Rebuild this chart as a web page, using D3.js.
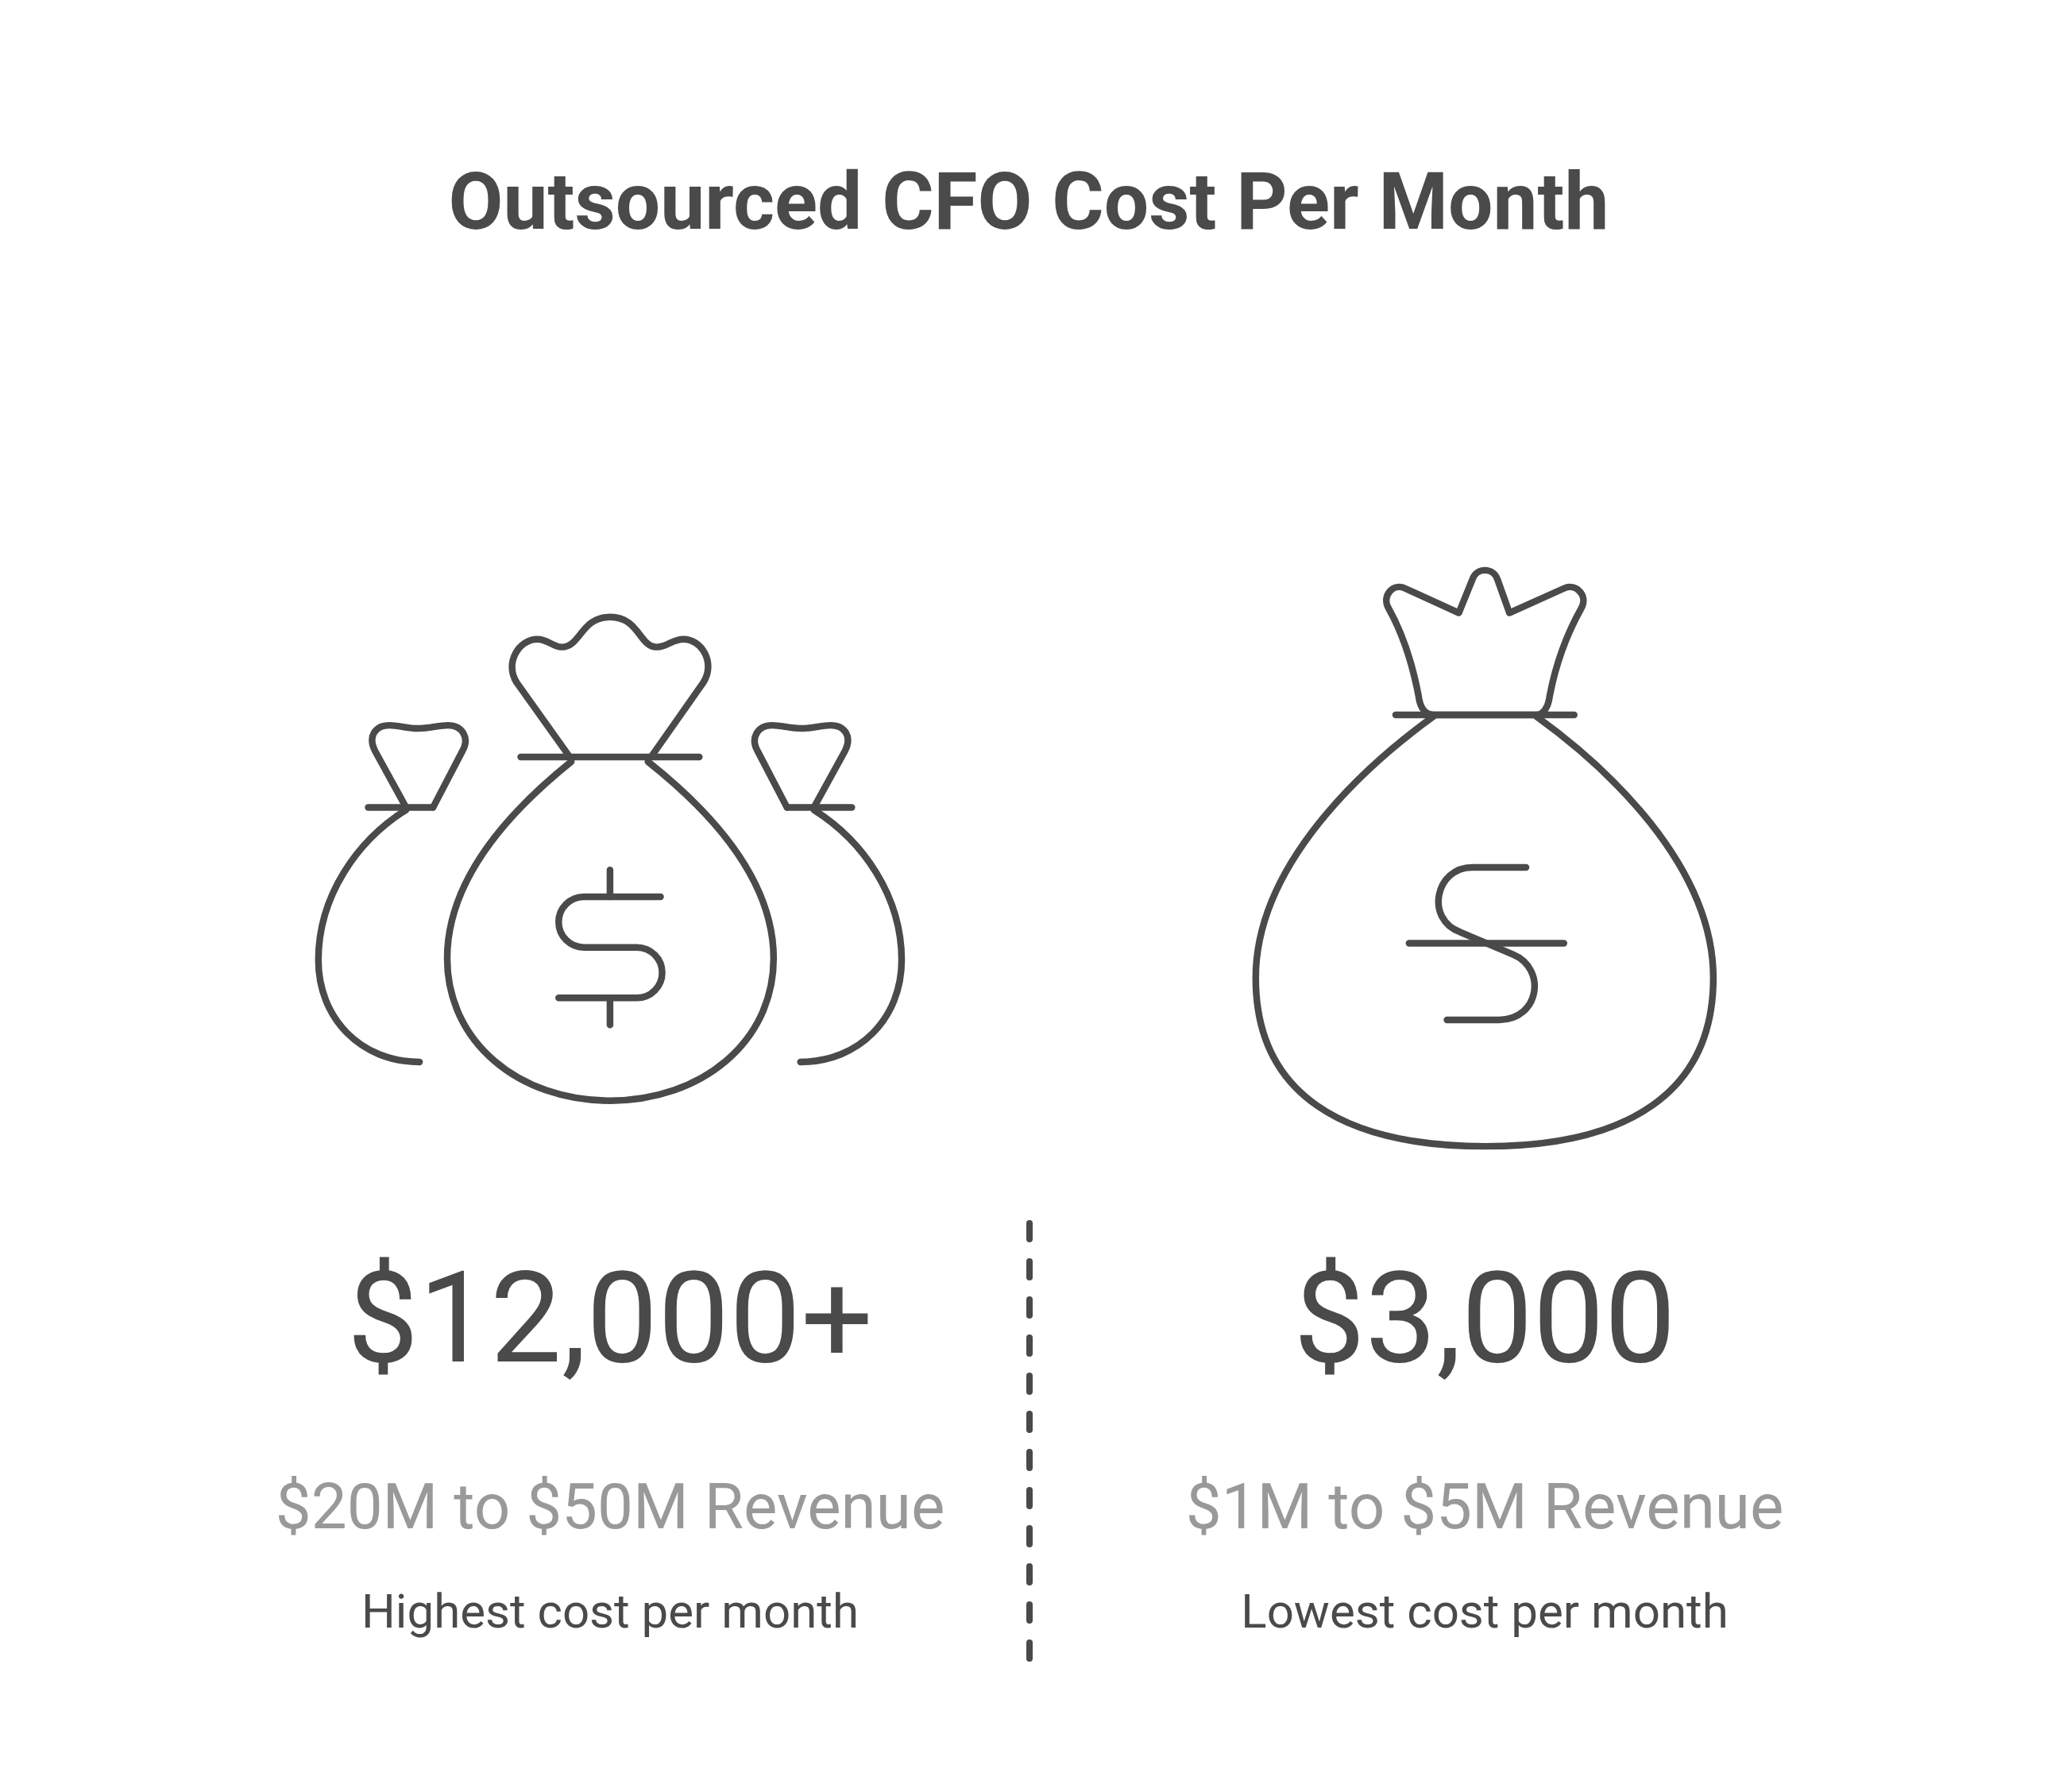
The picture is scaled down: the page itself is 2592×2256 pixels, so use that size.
<!DOCTYPE html>
<html lang="en">
<head>
  <meta charset="UTF-8">
  <script src="https://d3js.org/d3.v7.min.js"></script>
  <style>
body { margin: 0; background: #fff; }
svg { display: block; }
text { font-family: Roboto, sans-serif; text-anchor: middle; }
.icon { fill: none; stroke: #4a4a4a; stroke-width: 8.5; stroke-linecap: round; stroke-linejoin: round; }
</style>
</head>
<body>
<svg width="2592" height="2256"></svg>
<script>
const title = "Outsourced CFO Cost Per Month";
const tiers = ["high", "low"];
const costs = ["$12,000+", "$3,000"];
const revenues = ["$20M to $50M Revenue", "$1M to $5M Revenue"];
const captions = ["Highest cost per month", "Lowest cost per month"];

const ink = "#4a4a4a", grey = "#999999";
const svg = d3.select("svg");
const x = d3.scalePoint().domain(tiers).range([768, 1869]);

svg.append("rect").attr("width", 2592).attr("height", 2256).attr("fill", "#fff");

svg.append("text")
  .attr("x", 1295).attr("y", 288)
  .attr("font-size", 100).attr("font-weight", 700).attr("fill", ink)
  .text(title);

// icon outlines
const smallBag = [
  "M464,1018H546",
  "M512,1018L473,947C463,928 473,914 491,914C503,914 512,918 527,918C542,918 553,914 565,914C583,914 593,930 583,947L546,1018",
  "M512,1021C450,1060 401,1130 401,1211C401,1285 455,1340 529,1340"
];
const centreBag = [
  "M657,954H883",
  "M719,954L652,860C636,835 655,805 678,805C692,805 697,815 709,815C733,815 733,777 770,777C807,777 807,815 829,815C843,815 848,805 863,805C886,805 904,835 888,860L822,954",
  "M721,960C640,1025 564,1110 564,1209C564,1315 655,1389 770,1389C885,1389 977,1315 977,1209C977,1110 900,1025 818,960",
  "M770,1097V1131M770,1259V1293",
  "M834,1131H737A32,32 0 0 0 737,1195H804A32,32 0 0 1 804,1259H705"
];
const bigBag = [
  "M1758,901H1984",
  "M1806,901C1796,901 1789,893 1787,877C1780,840 1768,800 1749,766C1740,750 1755,734 1770,741L1838,772L1855,730C1860,714 1882,714 1887,730L1902,772L1971,741C1986,734 2002,750 1993,766C1974,800 1960,840 1953,877C1951,893 1944,901 1936,901Z",
  "M1806,903C1720,965 1581,1090 1581,1234C1581,1380 1690,1447 1872,1447C2050,1447 2160,1380 2160,1234C2160,1090 2022,965 1936,903",
  "M1775,1190H1971",
  "M1923,1094H1855C1808,1094 1795,1160 1840,1176L1906,1204C1950,1222 1940,1287 1889,1287H1823"
];

const drawPaths = (g, list) => g.selectAll(null).data(list).enter().append("path").attr("d", d => d);
// traced coordinates run slightly large, pull them back towards the corner they were read from
const fit = (x0, y0) => `translate(${x0},${y0}) scale(0.9949) translate(${-x0},${-y0})`;

const trio = svg.append("g").attr("class", "icon").attr("transform", fit(360, 740));
drawPaths(trio.append("g"), smallBag);
drawPaths(trio.append("g").attr("transform", "translate(1540,0) scale(-1,1)"), smallBag);
drawPaths(trio.append("g"), centreBag);
drawPaths(svg.append("g").attr("class", "icon").attr("transform", fit(1540, 690)), bigBag);

// divider
svg.append("line")
  .attr("x1", 1296).attr("x2", 1296).attr("y1", 1540).attr("y2", 2088)
  .attr("stroke", ink).attr("stroke-width", 8).attr("stroke-linecap", "round")
  .attr("stroke-dasharray", "20 28");

const columns = svg.selectAll(".column")
  .data(tiers)
  .enter().append("g")
  .attr("class", "column")
  .attr("transform", d => `translate(${x(d)},0)`);

columns.append("text").attr("y", 1714).attr("font-size", 160).attr("fill", ink)
  .text((d, i) => costs[i]);
columns.append("text").attr("y", 1924).attr("font-size", 80).attr("fill", grey)
  .text((d, i) => revenues[i]);
columns.append("text").attr("y", 2049).attr("font-size", 60).attr("fill", ink)
  .text((d, i) => captions[i]);
</script>
</body>
</html>
